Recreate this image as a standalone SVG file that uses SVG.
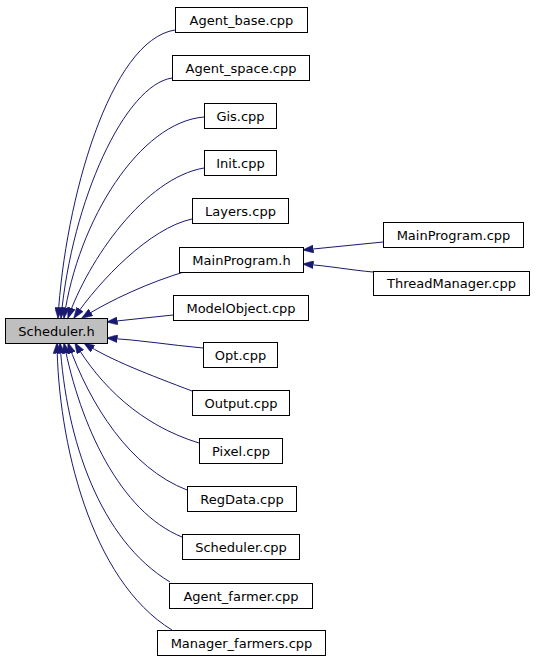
<svg xmlns="http://www.w3.org/2000/svg" width="536" height="659" viewBox="0 0 536 659">
<style>
.n rect{fill:#fff;stroke:#000;stroke-width:1}
.n text{font-family:"DejaVu Sans",sans-serif;font-size:13px;text-anchor:middle;fill:#000}
#scheduler_h rect{fill:#bfbfbf}
#edges path{fill:none;stroke:#191970;stroke-width:1;marker-end:url(#ah)}
</style>
<defs>
<marker id="ah" markerUnits="userSpaceOnUse" markerWidth="11" markerHeight="8" viewBox="0 0 11 8" refX="10.5" refY="4" orient="auto">
<path d="M0,0 L11,4 L0,8 z" fill="#191970" stroke="#191970" stroke-width="0.5"/>
</marker>
</defs>
<rect width="536" height="659" fill="#fff"/>
<g id="edges">
<path d="M175,30 C110,40 65,200 58,318"/>
<path d="M172,78 C125,85 72,200 61,318"/>
<path d="M204,117 C140,122 78,220 64,318"/>
<path d="M204,168 C145,178 88,260 68,318"/>
<path d="M192,219 C150,228 100,280 74,318"/>
<path d="M187,271 C150,282 110,300 82,318"/>
<path d="M173,315 L107,322"/>
<path d="M203,348 C170,345 140,340 107,338"/>
<path d="M192,391 C150,375 110,360 84,343"/>
<path d="M199,443 C140,425 100,385 75,343"/>
<path d="M187,490 C130,468 90,405 68,343"/>
<path d="M182,537 C120,512 80,425 64,343"/>
<path d="M170,582 C100,540 66,440 60,343"/>
<path d="M172,630 C90,580 58,440 57,343"/>
<path d="M383,242 L303,250"/>
<path d="M373,272 C350,270 330,266 303,264"/>
</g>
<g id="scheduler_h" class="n"><rect x="5.5" y="318.5" width="102" height="25"/><text x="56.5" y="335.5">Scheduler.h</text></g>
<g id="agent_base_cpp" class="n"><rect x="175.5" y="7.5" width="132" height="25"/><text x="241.5" y="24.5">Agent_base.cpp</text></g>
<g id="agent_space_cpp" class="n"><rect x="172.5" y="55.5" width="137" height="25"/><text x="241" y="72.5">Agent_space.cpp</text></g>
<g id="gis_cpp" class="n"><rect x="204.5" y="103.5" width="72" height="25"/><text x="240.5" y="120.5">Gis.cpp</text></g>
<g id="init_cpp" class="n"><rect x="204.5" y="150.5" width="72" height="25"/><text x="240.5" y="167.5">Init.cpp</text></g>
<g id="layers_cpp" class="n"><rect x="192.5" y="198.5" width="96" height="25"/><text x="240.5" y="215.5">Layers.cpp</text></g>
<g id="mainprogram_h" class="n"><rect x="179.5" y="247.5" width="124" height="25"/><text x="241.5" y="264.5">MainProgram.h</text></g>
<g id="mainprogram_cpp" class="n"><rect x="383.5" y="222.5" width="140" height="25"/><text x="453.5" y="239.5">MainProgram.cpp</text></g>
<g id="threadmanager_cpp" class="n"><rect x="373.5" y="271.5" width="156" height="24"/><text x="451.5" y="288">ThreadManager.cpp</text></g>
<g id="modelobject_cpp" class="n"><rect x="173.5" y="295.5" width="135" height="25"/><text x="241" y="312.5">ModelObject.cpp</text></g>
<g id="opt_cpp" class="n"><rect x="203.5" y="342.5" width="74" height="25"/><text x="240.5" y="359.5">Opt.cpp</text></g>
<g id="output_cpp" class="n"><rect x="192.5" y="390.5" width="97" height="25"/><text x="241" y="407.5">Output.cpp</text></g>
<g id="pixel_cpp" class="n"><rect x="199.5" y="438.5" width="83" height="25"/><text x="241" y="455.5">Pixel.cpp</text></g>
<g id="regdata_cpp" class="n"><rect x="187.5" y="486.5" width="109" height="25"/><text x="242" y="503.5">RegData.cpp</text></g>
<g id="scheduler_cpp" class="n"><rect x="182.5" y="534.5" width="117" height="25"/><text x="241" y="551.5">Scheduler.cpp</text></g>
<g id="agent_farmer_cpp" class="n"><rect x="169.5" y="583.5" width="143" height="25"/><text x="241" y="600.5">Agent_farmer.cpp</text></g>
<g id="manager_farmers_cpp" class="n"><rect x="157.5" y="630.5" width="168" height="25"/><text x="241.5" y="647.5">Manager_farmers.cpp</text></g>
</svg>
